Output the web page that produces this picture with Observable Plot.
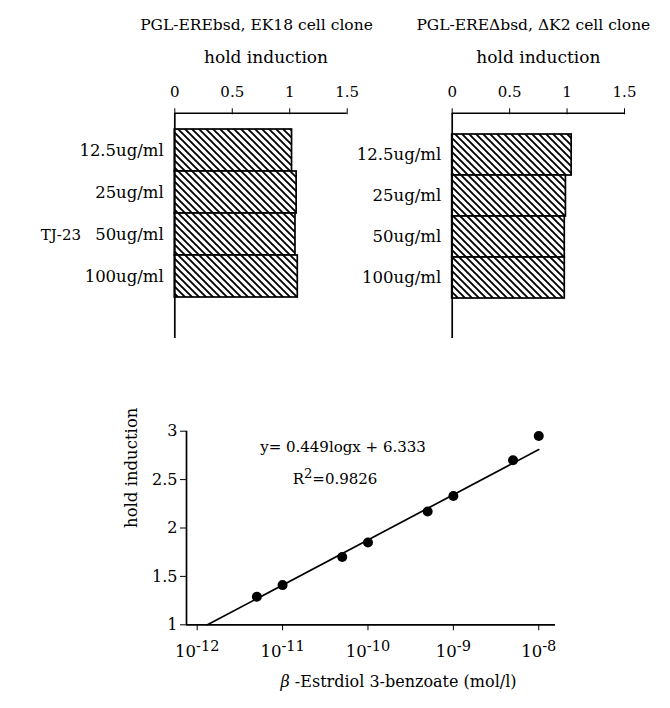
<!DOCTYPE html>
<html><head><meta charset="utf-8">
<script src="https://cdn.jsdelivr.net/npm/d3@7"></script>
<script src="https://cdn.jsdelivr.net/npm/@observablehq/plot@0.6"></script>
<style>
html,body{margin:0;padding:0;background:#fff;}
#fig{position:relative;width:670px;height:708px;background:#fff;overflow:hidden;}
#fig svg{position:absolute;overflow:visible;}
</style></head><body><div id="fig"></div>
<script>
// ---- data ----
const doses = ["12.5ug/ml", "25ug/ml", "50ug/ml", "100ug/ml"];
const ek18Values = [1.02, 1.06, 1.05, 1.07];
const dk2Values = [1.04, 0.99, 0.98, 0.98];
const barTicks = [0, 0.5, 1, 1.5];
const concentrations = [5e-12, 1e-11, 5e-11, 1e-10, 5e-10, 1e-9, 5e-9, 1e-8];
const induction = [1.29, 1.41, 1.70, 1.85, 2.17, 2.33, 2.70, 2.95];
const fitX = [1.32e-12, 1e-8];
const fitY = [1.0, 2.81];
const yTicks = [1, 1.5, 2, 2.5, 3];
const xTicks = [1e-12, 1e-11, 1e-10, 1e-9, 1e-8];
const panelTitles = ["PGL-EREbsd, EK18 cell clone", "PGL-EREΔbsd, ΔK2 cell clone"];
const axisTitle = "hold induction";
const groupLabel = "TJ-23";
const equation = "y= 0.449logx + 6.333";
const rSquared = "R^{2}=0.9826";
const xTitle = "β -Estrdiol 3-benzoate (mol/l)";

const ns = "http://www.w3.org/2000/svg";
const FONT = "'DejaVu Serif', 'Liberation Serif', serif";
const fig = document.getElementById("fig");

function addHatch(svg, id) {
  const defs = document.createElementNS(ns, "defs");
  const p = document.createElementNS(ns, "pattern");
  p.setAttribute("id", id);
  p.setAttribute("patternUnits", "userSpaceOnUse");
  p.setAttribute("width", 7);
  p.setAttribute("height", 7);
  const bg = document.createElementNS(ns, "rect");
  bg.setAttribute("width", 7); bg.setAttribute("height", 7); bg.setAttribute("fill", "#fff");
  const path = document.createElementNS(ns, "path");
  path.setAttribute("d", "M-1,-1L8,8M-1,6L1,8M6,-1L8,1");
  path.setAttribute("stroke", "#000");
  path.setAttribute("stroke-width", "1.9");
  p.appendChild(bg); p.appendChild(path); defs.appendChild(p);
  svg.insertBefore(defs, svg.firstChild);
}

function richText(svg) {
  svg.querySelectorAll("text").forEach(t => {
    if (t.children.length) return;
    const s = t.textContent;
    if (!/\^\{|β/.test(s)) return;
    t.textContent = "";
    const add = (str, attrs) => {
      const ts = document.createElementNS(ns, "tspan");
      for (const k in attrs) ts.setAttribute(k, attrs[k]);
      ts.textContent = str;
      t.appendChild(ts);
    };
    const re = /\^\{([^}]*)\}|(β)/g;
    let last = 0, m, pendingDown = 0;
    while ((m = re.exec(s))) {
      if (m.index > last) {
        add(s.slice(last, m.index), pendingDown ? {dy: pendingDown} : {});
        pendingDown = 0;
      }
      if (m[1] !== undefined) {
        add(m[1], {dy: -6, "font-size": "88%"});
        pendingDown = 6;
      } else {
        add(m[2], {"font-style": "italic"});
      }
      last = re.lastIndex;
    }
    if (last < s.length) add(s.slice(last), pendingDown ? {dy: pendingDown} : {});
  });
}

function axisFont(svg, axis, size) {
  svg.querySelectorAll(`[aria-label^="${axis}-axis"]`).forEach(g => g.style.fontSize = size);
}

function topLine(index, scales, values, dim) {
  const l = document.createElementNS(ns, "line");
  l.setAttribute("x1", dim.marginLeft);
  l.setAttribute("x2", dim.width - dim.marginRight);
  l.setAttribute("y1", dim.marginTop);
  l.setAttribute("y2", dim.marginTop);
  l.setAttribute("stroke", "#000");
  l.setAttribute("stroke-width", 1.6);
  return l;
}

function barPanel(values, title, o) {
  const data = doses.map((d, i) => ({dose: d, value: values[i]}));
  const svg = Plot.plot({
    width: o.width, height: o.height,
    marginLeft: o.ml, marginRight: o.mr, marginTop: o.mt, marginBottom: o.mb,
    style: {fontFamily: FONT, fontSize: "15px", color: "#000", background: "transparent"},
    x: {domain: [0, 1.5], ticks: barTicks, tickFormat: d => String(d), axis: "top", tickSize: 6, tickPadding: 11, label: null},
    y: {type: "band", domain: doses, range: o.yRange, padding: 0, tickSize: 0, tickPadding: 11, label: null},
    marks: [
      Plot.barX(data, {x: "value", y: "dose", fill: `url(#${o.id})`, stroke: "#000", strokeWidth: 1.7}),
      Plot.ruleX([0], {stroke: "#000", strokeWidth: 1.7}),
      topLine,
      Plot.text([title], {text: d => d, frameAnchor: "top", dx: o.tdx, dy: -95, fontSize: 15.5}),
      Plot.text([axisTitle], {text: d => d, frameAnchor: "top", dx: o.hdx, dy: -63, fontSize: 17}),
      ...(o.group ? [Plot.text([groupLabel], {text: d => d, frameAnchor: "left", textAnchor: "start", dx: -134, dy: 9.5, fontSize: 15})] : [])
    ]
  });
  axisFont(svg, "x", "15px");
  axisFont(svg, "y", "16.5px");
  addHatch(svg, o.id);
  svg.style.left = o.left + "px";
  svg.style.top = o.top + "px";
  fig.appendChild(svg);
}

barPanel(ek18Values, panelTitles[0], {
  id: "hatchA", left: 0, top: 0, width: 380, height: 345,
  ml: 174.3, mr: 33.3, mt: 113.3, mb: 7, yRange: [127.7, 297.7],
  tdx: -4.5, hdx: 5, group: true
});
barPanel(dk2Values, panelTitles[1], {
  id: "hatchB", left: 335, top: 0, width: 335, height: 345,
  ml: 116.7, mr: 46, mt: 113.3, mb: 7, yRange: [133.3, 299.3],
  tdx: -5, hdx: 0, group: false
});

// ---- dose-response plot ----
const points = concentrations.map((c, i) => ({c, v: induction[i]}));
const fit = fitX.map((c, i) => ({c, v: fitY[i]}));
const xDomain = [Math.pow(10, -12.125), Math.pow(10, -7.804)];

const bottom = Plot.plot({
  width: 670, height: 308,
  marginLeft: 186, marginRight: 115, marginTop: 30.7, marginBottom: 83.7,
  style: {fontFamily: FONT, fontSize: "15px", color: "#000", background: "transparent"},
  x: {type: "log", domain: xDomain, ticks: xTicks, tickFormat: d => `10^{-${Math.round(-Math.log10(d))}}`,
      tickSize: 6, tickPadding: 14, label: null},
  y: {domain: [1, 3], ticks: yTicks, tickFormat: d => String(d), tickSize: 6, tickPadding: 3, label: null},
  marks: [
    Plot.ruleY([1], {stroke: "#000", strokeWidth: 1.7}),
    Plot.ruleX([xDomain[0]], {y1: 1, y2: 3, stroke: "#000", strokeWidth: 1.7}),
    Plot.line(fit, {x: "c", y: "v", stroke: "#000", strokeWidth: 1.7}),
    Plot.dot(points, {x: "c", y: "v", r: 5, fill: "#000", stroke: "none"}),
    Plot.text([equation], {text: d => d, frameAnchor: "top", dx: -28, dy: 10}),
    Plot.text([rSquared], {text: d => d, frameAnchor: "top", dx: -36, dy: 42}),
    Plot.text([axisTitle], {text: d => d, frameAnchor: "left", rotate: -90, dx: -55, fontSize: 16.5}),
    Plot.text([xTitle], {text: d => d, frameAnchor: "bottom", dx: 27.5, dy: 62, fontSize: 16})
  ]
});
axisFont(bottom, "x", "16.5px");
axisFont(bottom, "y", "16px");
richText(bottom);
bottom.style.left = "0px";
bottom.style.top = "400px";
fig.appendChild(bottom);
</script></body></html>
